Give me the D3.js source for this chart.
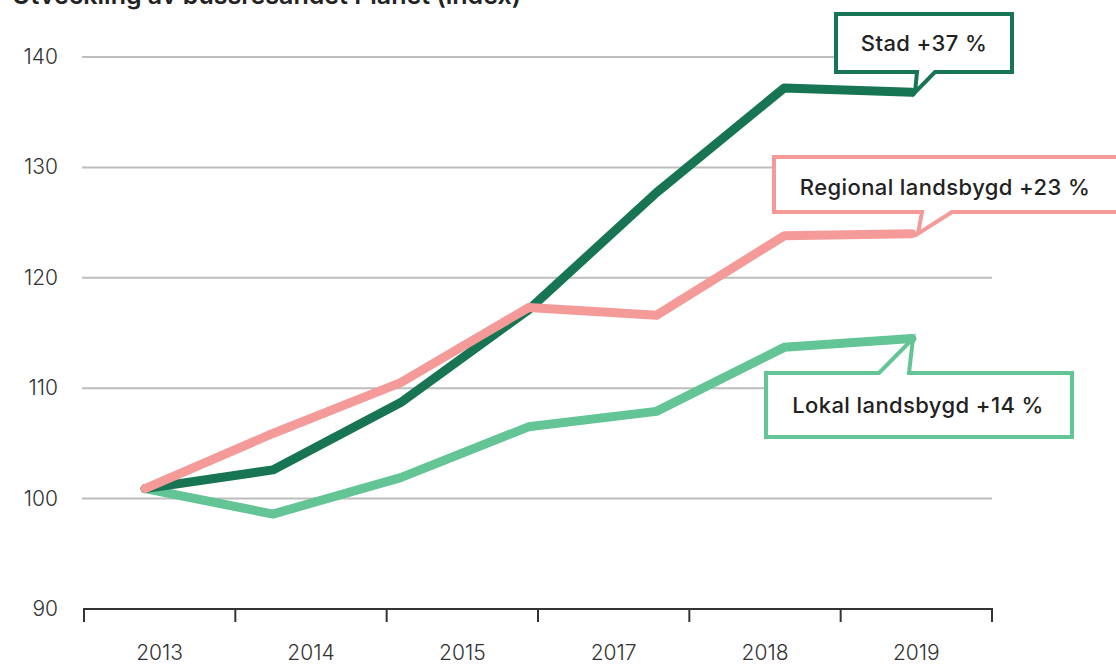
<!DOCTYPE html>
<html>
<head>
<meta charset="utf-8">
<script src="https://cdn.jsdelivr.net/npm/d3@7/dist/d3.min.js"></script>
<style>
  html, body { margin: 0; padding: 0; background: #fff; }
  svg { display: block; font-family: Inter, "Open Sans", sans-serif; }
</style>
</head>
<body>
<svg id="chart" width="1116" height="665"></svg>
<script>
const title = "Utveckling av bussresandet Planet (index)";
const years = [2013, 2014, 2015, 2016, 2017, 2018, 2019];
const axisLabels = ["2013", "2014", "2015", "2017", "2018", "2019"];
const yTicks = [90, 100, 110, 120, 130, 140];

const stad     = [100.9, 102.6, 108.7, 117.1, 127.7, 137.2, 136.8];
const regional = [100.9, 105.9, 110.5, 117.3, 116.6, 123.8, 124.0];
const lokal    = [100.9,  98.6, 101.9, 106.5, 107.9, 113.7, 114.5];

const seriesNames = ["Lokal landsbygd +14 %", "Stad +37 %", "Regional landsbygd +23 %"];
const seriesColors = ["#63c495", "#177553", "#f49a98"];

const svg = d3.select("#chart");

const y = d3.scaleLinear().domain([90, 140]).range([609, 57]);
const xBand = d3.scaleBand().domain(axisLabels).range([84, 992]);
const xPt = d3.scalePoint().domain(years).range([145, 912]);

// title (cut off at top, as in the reference)
svg.append("text")
  .attr("x", 12).attr("y", 4)
  .attr("font-size", 25).attr("font-weight", 600)
  .attr("fill", "#222")
  .text(title);

// gridlines
svg.append("g")
  .selectAll("line")
  .data(yTicks.filter(d => d > 90))
  .join("line")
  .attr("x1", 82).attr("x2", 992)
  .attr("y1", d => y(d)).attr("y2", d => y(d))
  .attr("stroke", "#bdbdbd").attr("stroke-width", 2);

// y labels
svg.append("g")
  .selectAll("text")
  .data(yTicks)
  .join("text")
  .attr("x", 58).attr("y", d => y(d) + 7)
  .attr("text-anchor", "end")
  .attr("font-size", 21).attr("font-weight", 300)
  .attr("fill", "#333")
  .text(d => d);

// x axis
const xAxis = svg.append("g").attr("transform", `translate(0,${y(90)})`);
xAxis.append("line")
  .attr("x1", xBand.range()[0]).attr("x2", xBand.range()[1])
  .attr("stroke", "#333").attr("stroke-width", 2);
const tickPos = axisLabels.map(d => xBand(d)).concat([xBand.range()[1]]);
xAxis.selectAll("line.tick")
  .data(tickPos)
  .join("line")
  .attr("class", "tick")
  .attr("x1", d => d).attr("x2", d => d)
  .attr("y1", -1).attr("y2", 13)
  .attr("stroke", "#333").attr("stroke-width", 2);
xAxis.selectAll("text")
  .data(axisLabels)
  .join("text")
  .attr("x", d => xBand(d) + xBand.bandwidth() / 2)
  .attr("y", 51)
  .attr("text-anchor", "middle")
  .attr("font-size", 21).attr("font-weight", 300)
  .attr("fill", "#333")
  .text(d => d);

// lines
const allSeries = [lokal, stad, regional];
const line = d3.line().x((d, i) => xPt(years[i])).y(d => y(d));
svg.append("g")
  .selectAll("path")
  .data(allSeries)
  .join("path")
  .attr("d", d => line(d))
  .attr("fill", "none")
  .attr("stroke", (d, i) => seriesColors[i])
  .attr("stroke-width", 9)
  .attr("stroke-linecap", "round")
  .attr("stroke-linejoin", "round");

// callouts
function callout(series, colorIdx, box, ptr, textX, textY, strokeW) {
  const last = series[series.length - 1];
  const tx = xPt(years[years.length - 1]) + ptr.dx;
  const ty = y(last);
  const [bx0, by0, bx1, by1] = box;
  let pts;
  if (ptr.side === "bottom") {
    pts = [[bx0, by0], [bx1, by0], [bx1, by1], [ptr.b2, by1], [tx, ty], [ptr.b1, by1], [bx0, by1]];
  } else {
    pts = [[bx0, by0], [ptr.b1, by0], [tx, ty], [ptr.b2, by0], [bx1, by0], [bx1, by1], [bx0, by1]];
  }
  svg.append("path")
    .attr("d", "M" + pts.map(p => p.join(",")).join("L") + "Z")
    .attr("fill", "#fff")
    .attr("stroke", seriesColors[colorIdx])
    .attr("stroke-width", strokeW)
    .attr("stroke-linejoin", "miter");
  svg.append("text")
    .attr("x", textX).attr("y", textY)
    .attr("text-anchor", "middle")
    .attr("font-size", 22).attr("font-weight", 500)
    .attr("letter-spacing", 0.4)
    .attr("fill", "#222")
    .text(seriesNames[colorIdx]);
}

callout(stad, 1, [836, 14, 1012, 72], {side: "bottom", b1: 917, b2: 935, dx: 3}, 924, 51, 4);
callout(regional, 2, [774, 157, 1130, 212], {side: "bottom", b1: 922, b2: 952, dx: 6}, 945, 195, 4);
callout(lokal, 0, [766, 373, 1072, 437], {side: "top", b1: 879, b2: 909, dx: 1}, 918, 413, 4);
</script>
</body>
</html>
